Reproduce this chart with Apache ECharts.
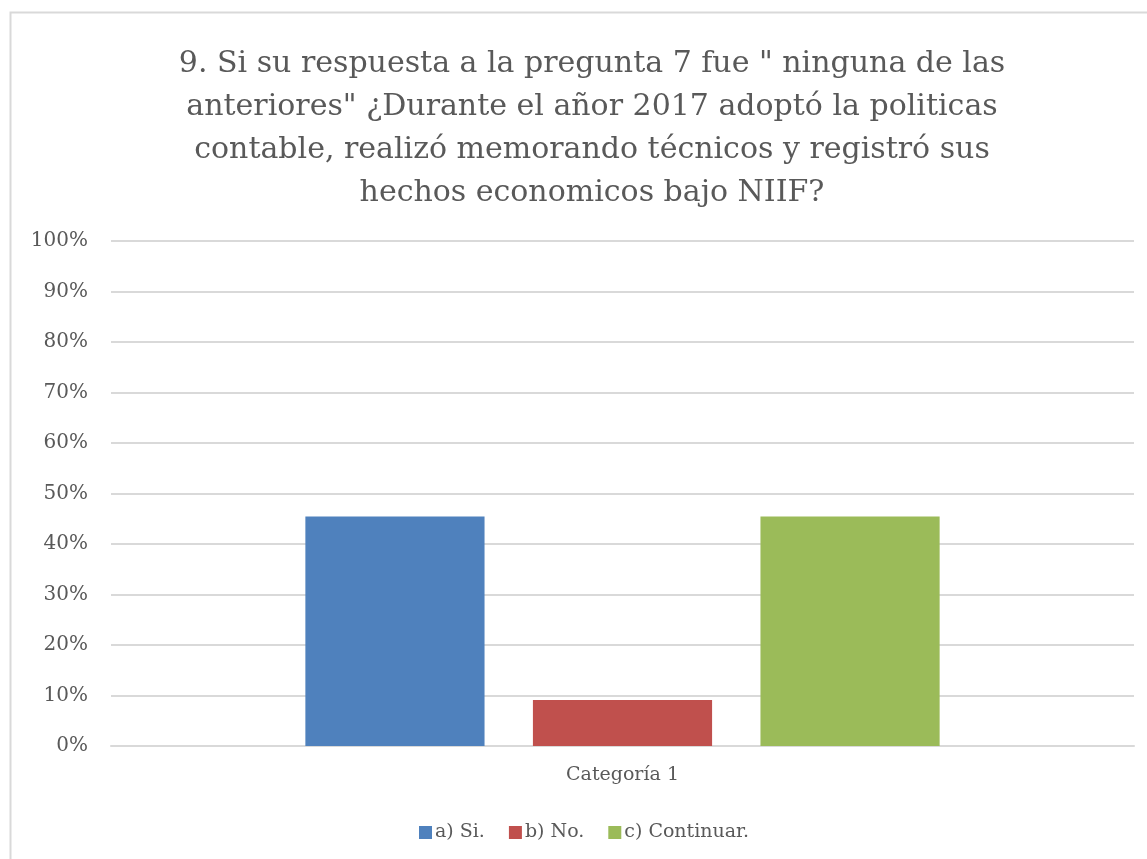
<!DOCTYPE html>
<html>
<head>
<meta charset="utf-8">
<script src="https://cdn.jsdelivr.net/npm/echarts@6/dist/echarts.min.js"></script>
<style>
  html, body { margin: 0; padding: 0; background: #fff; }
  #chart { width: 1147px; height: 859px; }
</style>
</head>
<body>
<div id="chart"></div>
<script>
  // datos
  var categorias = ['Categoría 1'];
  var series = ['a) Si.', 'b) No.', 'c) Continuar.'];
  var valores = [[45.45], [9.09], [45.45]];
  var colores = ['#4F81BD', '#C0504D', '#9BBB59'];
  var titulo = '9. Si su respuesta a la pregunta 7 fue " ninguna de las\nanteriores" ¿Durante el añor 2017 adoptó la politicas\ncontable, realizó memorando técnicos y registró sus\nhechos economicos bajo NIIF?';

  var fuente = 'DejaVu Serif';
  var gris = '#595959';

  var chart = echarts.init(document.getElementById('chart'));
  var option = {
    animation: false,
    color: colores,
    textStyle: { fontFamily: fuente, color: gris },
    title: {
      text: titulo,
      left: 587,
      top: 38,
      textAlign: 'center',
      textStyle: { fontFamily: fuente, fontSize: 30, fontWeight: 'normal', color: gris, lineHeight: 43, align: 'center' }
    },
    graphic: [{
      type: 'rect',
      shape: { x: 10.5, y: 12.5, width: 1300, height: 1000 },
      style: { fill: 'none', stroke: '#d9d9d9', lineWidth: 2 },
      silent: true
    }],
    legend: {
      data: series,
      left: 414,
      top: 818,
      icon: 'rect',
      itemWidth: 13,
      itemHeight: 13,
      itemGap: 24,
      textStyle: { fontFamily: fuente, fontSize: 19, color: gris, padding: [0, 0, 0, -2] }
    },
    grid: { left: 111, right: 13, top: 241, bottom: 113 },
    xAxis: {
      type: 'category',
      data: categorias,
      axisLine: { lineStyle: { color: '#d9d9d9', width: 2 } },
      axisTick: { show: false },
      axisLabel: { fontFamily: fuente, fontSize: 19, color: gris, margin: 20 }
    },
    yAxis: {
      type: 'value',
      min: 0,
      max: 100,
      interval: 10,
      axisLine: { show: false },
      axisTick: { show: false },
      splitLine: { lineStyle: { color: '#d9d9d9', width: 2 } },
      axisLabel: { fontFamily: fuente, fontSize: 20, color: gris, margin: 23, formatter: '{value}%' }
    },
    series: series.map(function (n, i) {
      return { name: n, type: 'bar', data: valores[i], barGap: '27%', barCategoryGap: '38%' };
    })
  };
  chart.setOption(option);
</script>
</body>
</html>
